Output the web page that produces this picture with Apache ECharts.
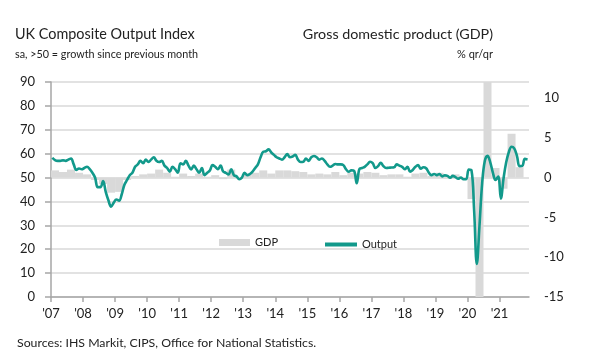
<!DOCTYPE html>
<html>
<head>
<meta charset="utf-8">
<script src="https://cdn.jsdelivr.net/npm/echarts@6/dist/echarts.min.js"></script>
<style>
html,body{margin:0;padding:0;background:#fff;}
#c{width:600px;height:362px;}
</style>
</head>
<body>
<div id="c"></div>
<script>
// Monthly UK Composite Output Index, Jan 2007 - Nov 2021
const outputValues = [
  58.3,57.3,57.0,57.0,57.2,57.0,57.5,58.0,55.5,53.2,53.8,53.5, // 2007
  54.0,54.5,53.5,52.0,50.0,46.0,46.0,48.5,44.0,40.5,37.8,39.5, // 2008
  40.8,40.3,43.0,47.0,49.0,51.0,52.0,54.5,55.5,57.0,56.0,57.5, // 2009
  56.5,57.5,58.5,57.0,56.5,57.0,55.0,54.0,52.5,54.5,53.5,52.0, // 2010
  56.0,55.5,57.0,55.0,53.4,55.0,53.5,52.0,54.0,51.0,52.0,53.0, // 2011
  55.2,54.5,53.5,55.0,52.5,52.0,51.3,53.5,51.0,50.5,49.3,50.0, // 2012
  52.0,51.0,51.5,52.5,54.0,55.5,58.5,60.8,61.0,61.8,60.5,59.5, // 2013
  58.5,58.0,57.5,58.5,59.8,58.5,58.8,59.5,57.5,56.5,56.6,58.0, // 2014
  57.0,58.5,59.0,58.5,57.5,58.0,57.0,55.5,54.5,55.0,55.7,55.5, // 2015
  55.5,55.2,53.5,52.4,53.0,52.8,47.6,53.5,54.0,54.5,55.5,56.6, // 2016
  56.0,54.0,54.8,56.2,54.8,54.0,54.1,54.2,54.3,55.5,55.0,54.5, // 2017
  53.5,54.5,52.5,53.2,54.5,55.2,53.7,54.3,53.9,52.1,51.0,51.5, // 2018
  51.0,51.5,50.5,50.9,50.7,49.9,50.7,50.2,49.5,50.0,49.3,49.3, // 2019
  53.3,53.0,36.0,13.8,30.0,47.7,57.0,59.1,56.5,52.1,49.0,50.4, // 2020
  41.2,49.6,56.4,60.7,62.9,62.2,59.2,54.8,54.9,57.8,57.6       // 2021
];
// Quarterly GDP, % q/q, Q1 2007 - Q3 2021
const gdpValues = [
  0.9,0.7,1.0,0.6,   // 2007
  0.4,-0.3,-0.8,-1.9,// 2008
  -1.8,-0.3,0.2,0.4, // 2009
  0.5,1.0,0.6,0.1,   // 2010
  0.5,0.2,0.5,0.1,   // 2011
  0.3,-0.2,1.0,0.0,  // 2012
  0.5,0.6,0.9,0.5,   // 2013
  0.9,0.9,0.8,0.7,   // 2014
  0.4,0.5,0.4,0.7,   // 2015
  0.3,0.6,0.5,0.7,   // 2016
  0.6,0.3,0.4,0.4,   // 2017
  0.1,0.5,0.6,0.2,   // 2018
  0.6,-0.1,0.4,0.0,  // 2019
  -2.7,-19.5,16.9,1.2, // 2020
  -1.4,5.5,1.3       // 2021
];
const startYear = 2007;
const tickYears = [2007,2008,2009,2010,2011,2012,2013,2014,2015,2016,2017,2018,2019,2020,2021];

const outputData = outputValues.map((v, i) => [startYear + (i + 0.5) / 12, v]);
const gdpData = gdpValues.map((v, q) => [startYear + (q * 3 + 1.5) / 12, v]);

const FONT = 'Lato, "Open Sans", sans-serif';
const TXT = '#222';
const chart = echarts.init(document.getElementById('c'), null, {renderer: 'canvas'});
chart.setOption({
  animation: false,
  backgroundColor: '#fff',
  textStyle: {fontFamily: FONT},
  grid: {left: 51, right: 71, top: 82, bottom: 65},
  graphic: [
    {type: 'text', left: 15, top: 27, style: {text: 'UK Composite Output Index', font: '14.4px ' + FONT, fill: TXT}},
    {type: 'text', left: 15, top: 49, style: {text: 'sa, >50 = growth since previous month', font: '10.8px ' + FONT, fill: TXT}},
    {type: 'text', right: 107, top: 27, style: {text: 'Gross domestic product (GDP)', font: '14.3px ' + FONT, fill: TXT}},
    {type: 'text', right: 107, top: 49, style: {text: '% qr/qr', font: '11px ' + FONT, fill: TXT}},
    {type: 'text', left: 17, top: 337, style: {text: 'Sources: IHS Markit, CIPS, Office for National Statistics.', font: '12.3px ' + FONT, fill: TXT}}
  ],
  legend: [
    {data: [{name: 'GDP', icon: 'rect'}], left: 219, top: 237, itemWidth: 31, itemHeight: 7,
     textStyle: {fontSize: 11, color: TXT, fontFamily: FONT}, itemGap: 0, padding: 0},
    {data: [{name: 'Output', icon: 'rect'}], left: 325, top: 239, itemWidth: 32, itemHeight: 4,
     textStyle: {fontSize: 11, color: TXT, fontFamily: FONT}, itemGap: 0, padding: 0}
  ],
  xAxis: {
    type: 'value', min: 2007, max: 2021.92, interval: 1,
    axisLine: {show: true, lineStyle: {color: '#a6a6a6', width: 1.5}},
    axisTick: {show: true, length: 5, lineStyle: {color: '#a6a6a6', width: 1.5}, customValues: tickYears},
    axisLabel: {customValues: tickYears, formatter: v => "'" + String(Math.round(v)).slice(2),
      fontSize: 13, color: TXT, margin: 10, fontFamily: FONT},
    splitLine: {show: false}
  },
  yAxis: [
    {type: 'value', min: 0, max: 90, interval: 10, position: 'left',
     axisLine: {show: true, lineStyle: {color: '#a6a6a6', width: 1.5}},
     axisTick: {show: true, length: 6, lineStyle: {color: '#a6a6a6', width: 1.5}},
     axisLabel: {fontSize: 13, color: TXT, margin: 16, fontFamily: FONT},
     splitLine: {show: true, lineStyle: {color: '#d9d9d9', width: 1.5}}},
    {type: 'value', min: -15, max: 12, interval: 5, position: 'right',
     axisLine: {show: false}, axisTick: {show: false},
     axisLabel: {fontSize: 13, color: TXT, margin: 15, fontFamily: FONT,
       formatter: v => (v % 5 === 0 ? String(v) : '')},
     splitLine: {show: false}}
  ],
  series: [
    {name: 'GDP', type: 'bar', yAxisIndex: 1, data: gdpData, barWidth: 8, clip: true,
     itemStyle: {color: '#d9d9d9'}, z: 1},
    {name: 'Output', type: 'line', yAxisIndex: 0, data: outputData, smooth: 0.4,
     symbol: 'none', showSymbol: false, clip: true,
     lineStyle: {color: '#12998b', width: 2.6}, itemStyle: {color: '#12998b'}, z: 3}
  ]
});
</script>
</body>
</html>
